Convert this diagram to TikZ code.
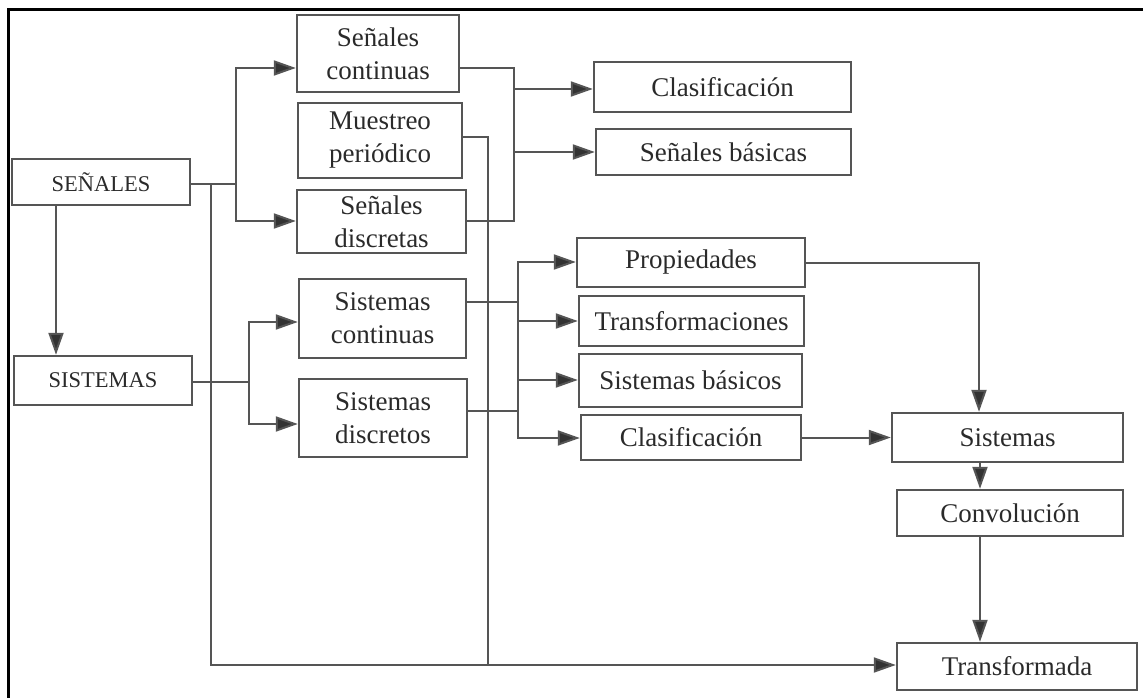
\documentclass[tikz,border=0pt]{standalone}
\usepackage{fontspec}
\setmainfont{Liberation Serif}
\usetikzlibrary{arrows.meta}
\definecolor{linegray}{HTML}{555555}
\definecolor{textgray}{HTML}{2A2A2A}
\definecolor{headgray}{HTML}{333333}
\tikzset{
  box/.style={draw=linegray, line width=2.4pt, inner sep=0pt, align=center,
    text=textgray, font=\fontsize{27}{33}\selectfont},
  capbox/.style={box, font=\fontsize{22.5}{26}\selectfont},
  conn/.style={draw=linegray, line width=2pt},
  arr/.style={conn, -{Triangle[length=22pt,width=15pt,fill=headgray]}},
}
\begin{document}
\begin{tikzpicture}[x=1pt,y=-1pt]
\useasboundingbox (0,0) rectangle (1143,698);
% frame (top and left only)
\draw[line width=3pt, black] (8.5,698) -- (8.5,9.5) -- (1143,9.5);

% nodes
\node[capbox, minimum width=178pt, minimum height=46pt] (sen) at (101,182) {SEÑALES};
\node[capbox, minimum width=178pt, minimum height=49pt] (sis) at (103,380.5) {SISTEMAS};
\node[box, minimum width=162pt, minimum height=77pt] (sc) at (378,53.5) {Señales\\continuas};
\node[box, minimum width=164pt, minimum height=75pt] (mp) at (380,140.5) {Muestreo\\periódico};
\node[box, minimum width=169pt, minimum height=63pt] (sd) at (381.5,221.5) {Señales\\discretas};
\node[box, minimum width=167pt, minimum height=79pt] (syc) at (382.5,318.5) {Sistemas\\continuas};
\node[box, minimum width=168pt, minimum height=78pt] (syd) at (383,418) {Sistemas\\discretos};
\node[box, minimum width=257pt, minimum height=50pt] (cl1) at (722.5,87) {Clasificación};
\node[box, minimum width=255pt, minimum height=46pt] (sb) at (723.5,152) {Señales básicas};
\node[box, minimum width=228pt, minimum height=49pt] (pr) at (691,262.5) {Propiedades};
\node[box, minimum width=225pt, minimum height=50pt] (tr) at (691.5,321) {Transformaciones};
\node[box, minimum width=223pt, minimum height=53pt] (sbs) at (690.5,380.5) {Sistemas básicos};
\node[box, minimum width=220pt, minimum height=45pt] (cl2) at (691,437.5) {Clasificación};
\node[box, minimum width=231pt, minimum height=49pt] (sist) at (1007.5,437.5) {Sistemas};
\node[box, minimum width=226pt, minimum height=46pt] (conv) at (1010,513) {Convolución};
\node[box, minimum width=240pt, minimum height=47pt] (tf) at (1017,666.5) {Transformada};

% junction coordinates
\coordinate (jsen) at (236,184);
\coordinate (jdown) at (211,184);
\coordinate (jsig) at (514,68);
\coordinate (jmp) at (488,137);
\coordinate (jsis) at (249,382);
\coordinate (jsys) at (518,302);

% SEÑALES connections
\draw[conn] (sen.east |- 0,184) -- (jsen);
\draw[arr] (jsen) |- (sc.west |- 0,68);
\draw[arr] (jsen) |- (sd.west |- 0,221);
\draw[arr] (jdown) |- (tf.west |- 0,665);
\draw[arr] (sen.south -| 56,0) -- (sis.north -| 56,0);

% signals to right column
\draw[conn] (sc.east |- 0,68) -- (jsig) -- (514,221) -- (sd.east |- 0,221);
\draw[arr] (514,89) -- (cl1.west |- 0,89);
\draw[arr] (514,152) -- (sb.west |- 0,152);

% muestreo
\draw[conn] (mp.east |- 0,137) -- (jmp) -- (488,665);

% SISTEMAS connections
\draw[conn] (sis.east |- 0,382) -- (jsis);
\draw[arr] (jsis) |- (syc.west |- 0,322);
\draw[arr] (jsis) |- (syd.west |- 0,424);

\draw[conn] (syc.east |- 0,302) -- (jsys);
\draw[conn] (syd.east |- 0,411) -- (518,411);
\draw[arr] (jsys) |- (pr.west |- 0,262);
\draw[arr] (jsys) |- (cl2.west |- 0,438);
\draw[arr] (518,321) -- (tr.west |- 0,321);
\draw[arr] (518,380) -- (sbs.west |- 0,380);

% right column
\draw[arr] (pr.east) -| (sist.north -| 979,0);
\draw[arr] (cl2.east) -- (sist.west |- cl2.east);
\draw[arr] (sist.south -| 980,0) -- (conv.north -| 980,0);
\draw[arr] (conv.south -| 980,0) -- (tf.north -| 980,0);
\end{tikzpicture}
\end{document}
